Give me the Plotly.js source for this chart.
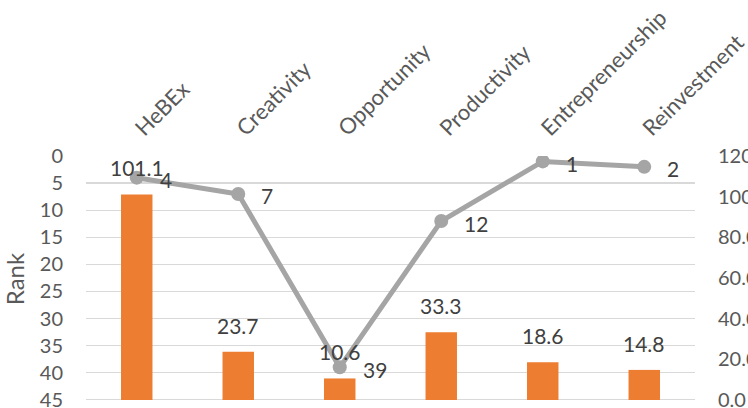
<!DOCTYPE html>
<html><head><meta charset="utf-8">
<script src="https://cdn.plot.ly/plotly-3.0.1.min.js"></script>
<style>html,body{margin:0;padding:0;background:#fff;}#chart{width:748px;height:408px;}</style>
</head><body><div id="chart"></div>
<script>
const categories = ["HeBEx", "Creativity", "Opportunity", "Productivity", "Entrepreneurship", "Reinvestment"];
const scores = [101.1, 23.7, 10.6, 33.3, 18.6, 14.8];
const ranks = [4, 7, 39, 12, 1, 2];

const FONT = "Lato, 'Open Sans', sans-serif";
const TICK = "#595959";
const LABEL = "#404040";

const bars = {
  type: "bar", x: categories, y: scores, yaxis: "y",
  marker: {color: "#ED7D31"}, width: 0.31, hoverinfo: "skip"
};
const line = {
  type: "scatter", mode: "lines+markers", x: categories, y: ranks, yaxis: "y2",
  line: {color: "#A5A5A5", width: 5}, marker: {color: "#A5A5A5", size: 14}, hoverinfo: "skip"
};

const annotations = [];
categories.forEach((c, i) => {
  annotations.push({x: c, y: scores[i], xref: "x", yref: "y", text: scores[i].toFixed(1),
    showarrow: false, yanchor: "bottom", yshift: 12, font: {family: FONT, size: 21, color: LABEL}});
  annotations.push({x: c, y: ranks[i], xref: "x", yref: "y2", text: String(ranks[i]),
    showarrow: false, xanchor: "left", xshift: 21, yshift: -2, font: {family: FONT, size: 21, color: LABEL}});
});

const layout = {
  width: 748, height: 408,
  margin: {l: 86, r: 53, t: 156, b: 6, pad: 0},
  paper_bgcolor: "#fff", plot_bgcolor: "rgba(0,0,0,0)",
  showlegend: false,
  font: {family: FONT, size: 20, color: TICK},
  xaxis: {side: "top", tickangle: -45, showgrid: false, zeroline: false, showline: false,
    ticks: "", ticklabelstandoff: 10, tickfont: {family: FONT, size: 22, color: TICK}, fixedrange: true},
  yaxis: {side: "right", range: [-0.98, 120], tick0: 0, dtick: 20, tickformat: ".1f", showgrid: false, zeroline: false,
    showline: false, ticks: "", ticklabelstandoff: 22, ticklabeloverflow: "allow",
    tickfont: {family: FONT, size: 20, color: TICK}},
  yaxis2: {overlaying: "y", side: "left", range: [45.4, 0], tick0: 0, dtick: 5, showgrid: true, gridcolor: "#D9D9D9",
    gridwidth: 1.3, zeroline: false, showline: false, ticks: "", ticklabelstandoff: 22, ticklabeloverflow: "allow",
    tickfont: {family: FONT, size: 20, color: TICK},
    title: {text: "Rank", font: {family: FONT, size: 24, color: TICK}, standoff: 8}},
  annotations: annotations
};

Plotly.newPlot("chart", [bars, line], layout, {staticPlot: true, displayModeBar: false});
</script>
</body></html>
